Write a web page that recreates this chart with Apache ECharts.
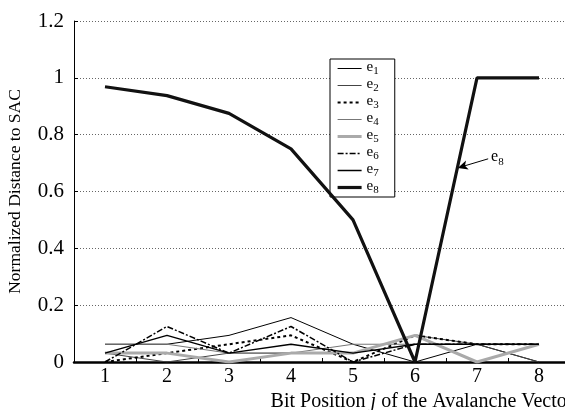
<!DOCTYPE html>
<html>
<head>
<meta charset="utf-8">
<script src="https://cdn.jsdelivr.net/npm/echarts@6/dist/echarts.min.js"></script>
<style>
  html, body { margin: 0; padding: 0; background: #fff; }
  #chart { width: 565px; height: 410px; }
</style>
</head>
<body>
<div id="chart"></div>
<script>
// Bit positions of the avalanche vector
const bitPositions = [1, 2, 3, 4, 5, 6, 7, 8];
const yTicks = [0, 0.2, 0.4, 0.6, 0.8, 1, 1.2];

// Normalized distance to SAC for each input bit e1..e8
const e1 = [0.0625, 0.0625, 0.09375, 0.15625, 0.0625, 0, 0.0625, 0];
const e2 = [0.03125, 0, 0.03125, 0.03125, 0.03125, 0.09375, 0.0625, 0];
const e3 = [0, 0.03125, 0.0625, 0.09375, 0, 0.09375, 0.0625, 0.0625];
const e4 = [0.0625, 0.0625, 0.03125, 0.03125, 0.0625, 0.0625, 0.0625, 0.0625];
const e5 = [0.03125, 0.03125, 0, 0.03125, 0.03125, 0.09375, 0, 0.0625];
const e6 = [0, 0.125, 0.03125, 0.125, 0, 0.0625, 0.0625, 0.0625];
const e7 = [0.03125, 0.09375, 0.03125, 0.0625, 0.03125, 0.0625, 0.0625, 0.0625];
const e8 = [0.96875, 0.9375, 0.875, 0.75, 0.5, 0, 1, 1];

// Callout pointing at the e8 curve (data units)
const calloutFrom = [7.18, 0.715];
const calloutTo = [6.69, 0.683];

const FONT = '"Liberation Serif", "Times New Roman", serif';

const styles = [
  { name: 'e1', data: e1, color: '#000', width: 1, type: 'solid' },
  { name: 'e2', data: e2, color: '#444', width: 1, type: 'solid' },
  { name: 'e3', data: e3, color: '#000', width: 2, type: [3, 3] },
  { name: 'e4', data: e4, color: '#777', width: 1, type: 'solid' },
  { name: 'e5', data: e5, color: '#aaa', width: 3, type: 'solid' },
  { name: 'e6', data: e6, color: '#000', width: 1.5, type: [6, 2, 2, 2] },
  { name: 'e7', data: e7, color: '#000', width: 1.5, type: 'solid' },
  { name: 'e8', data: e8, color: '#111', width: 3.2, type: 'solid' }
];

// "e" with a lowered index digit
const legendRich = {
  b: { fontFamily: FONT, fontSize: 15, color: '#000', verticalAlign: 'top', lineHeight: 13 },
  s: { fontFamily: FONT, fontSize: 11, color: '#000', verticalAlign: 'bottom', lineHeight: 17 }
};
const calloutRich = {
  b: { fontFamily: FONT, fontSize: 16, color: '#000', verticalAlign: 'top', lineHeight: 14 },
  s: { fontFamily: FONT, fontSize: 11, color: '#000', verticalAlign: 'bottom', lineHeight: 19 }
};

const series = styles.map(function (s) {
  const item = {
    name: s.name,
    type: 'line',
    data: bitPositions.map(function (x, i) { return [x, s.data[i]]; }),
    showSymbol: false,
    symbol: 'none',
    animation: false,
    lineStyle: { color: s.color, width: s.width, type: s.type },
    itemStyle: { color: s.color },
    z: s.name === 'e8' ? 5 : 2
  };
  if (s.name === 'e8') {
    item.markLine = {
      silent: true,
      animation: false,
      symbol: ['none', 'arrow'],
      symbolSize: [7, 10],
      lineStyle: { color: '#000', width: 1, type: 'solid' },
      label: {
        show: true,
        position: 'start',
        distance: 3,
        formatter: '{b|e}{s|8}',
        rich: calloutRich
      },
      data: [[{ coord: calloutFrom, symbol: 'none' }, { coord: calloutTo }]]
    };
  }
  return item;
});

const chart = echarts.init(document.getElementById('chart'), null, { renderer: 'canvas' });
chart.setOption({
  animation: false,
  backgroundColor: '#fff',
  textStyle: { fontFamily: FONT },
  grid: { left: 74, right: -5, top: 21, bottom: 48, containLabel: false, outerBoundsMode: 'none' },
  legend: {
    orient: 'vertical',
    left: 330,
    top: 59,
    backgroundColor: '#fff',
    borderColor: '#000',
    borderWidth: 1,
    borderRadius: 0,
    padding: [1, 16, 1, 6],
    itemWidth: 24,
    itemHeight: 12,
    itemGap: 0,
    itemStyle: { opacity: 0, borderWidth: 0 },
    lineStyle: { width: 'inherit', type: 'inherit', color: 'inherit' },
    data: styles.map(function (s) { return s.name; }),
    formatter: function (name) { return '{b|e}{s|' + name.slice(1) + '}'; },
    textStyle: { fontFamily: FONT, rich: legendRich }
  },
  xAxis: {
    type: 'value',
    min: 0.5,
    max: 8.5,
    name: 'Bit Position {i|j} of the Avalanche Vector',
    nameLocation: 'middle',
    nameGap: 25,
    nameTextStyle: {
      fontFamily: FONT, fontSize: 20, color: '#000', padding: [0, 0, 0, 200],
      rich: { i: { fontFamily: FONT, fontSize: 20, fontStyle: 'italic', color: '#000' } }
    },
    axisLine: { onZero: false, lineStyle: { color: '#000', width: 2.5 } },
    axisTick: { show: true, inside: true, length: 4, customValues: [1.5, 2.5, 3.5, 4.5, 5.5, 6.5, 7.5], lineStyle: { color: '#000', width: 1 } },
    axisLabel: { customValues: bitPositions, fontFamily: FONT, fontSize: 20, color: '#000', margin: 5 },
    splitLine: { show: false }
  },
  yAxis: {
    type: 'value',
    min: 0,
    max: 1.2,
    interval: 0.2,
    name: 'Normalized Distance to SAC',
    nameLocation: 'middle',
    nameGap: 50,
    nameTextStyle: { fontFamily: FONT, fontSize: 17.5, color: '#000' },
    axisLine: { show: true, lineStyle: { color: '#000', width: 1 } },
    axisTick: { show: true, inside: true, length: 4, lineStyle: { color: '#000' } },
    axisLabel: {
      fontFamily: FONT, fontSize: 21, color: '#000', margin: 10,
      formatter: function (v) {
        const t = yTicks.find(function (k) { return Math.abs(k - v) < 1e-9; });
        return t === undefined ? '' : String(t);
      }
    },
    splitLine: { show: true, lineStyle: { color: '#666', width: 1, type: [1, 2] } }
  },
  series: series
});
</script>
</body>
</html>
